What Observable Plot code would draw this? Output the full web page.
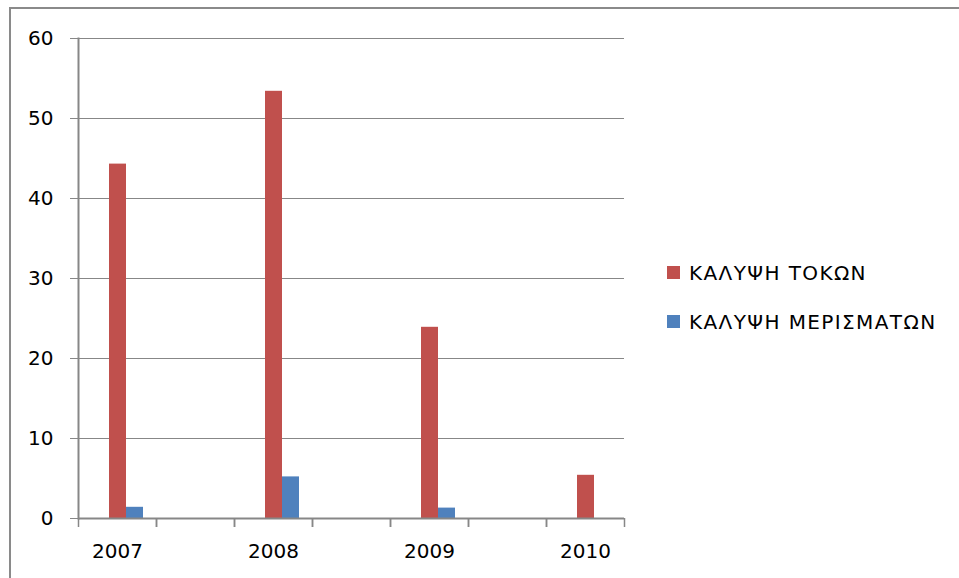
<!DOCTYPE html>
<html>
<head>
<meta charset="utf-8">
<script src="https://cdn.jsdelivr.net/npm/d3@7"></script>
<script src="https://cdn.jsdelivr.net/npm/@observablehq/plot@0.6"></script>
<style>
  html, body { margin: 0; padding: 0; background: #fff; }
  body { width: 959px; height: 578px; position: relative; overflow: hidden; font-family: "DejaVu Sans", sans-serif; }
  #border-top { position: absolute; left: 9px; top: 7px; width: 950px; height: 2px; background: #8a8a8a; }
  #border-left { position: absolute; left: 9px; top: 7px; width: 2px; height: 571px; background: #8a8a8a; }
  #chart { position: absolute; left: 0; top: 0; }
  #legend { position: absolute; left: 667px; top: 259px; font-size: 20px; letter-spacing: 1.4px; color: #000; }
  .item { display: flex; align-items: center; height: 27px; margin-bottom: 22px; }
  .sw { width: 13px; height: 13px; margin-right: 9px; }
</style>
</head>
<body>
<div id="border-top"></div>
<div id="border-left"></div>
<div id="chart"></div>
<div id="legend"></div>
<script>
// ---- data ----
const years = ["2007", "2008", "2009", "2010"];
const categories = ["2007", "-1", "2008", "-2", "2009", "-3", "2010"];
const seriesNames = ["ΚΑΛΥΨΗ ΤΟΚΩΝ", "ΚΑΛΥΨΗ ΜΕΡΙΣΜΑΤΩΝ"];
const seriesSlots = ["", "ΚΑΛΥΨΗ ΤΟΚΩΝ", "ΚΑΛΥΨΗ ΜΕΡΙΣΜΑΤΩΝ"];
const seriesColors = ["#C0504D", "#4F81BD"];
const tokon = [44.3, 53.4, 23.9, 5.4];
const merismaton = [1.4, 5.2, 1.3, 0];
const yTicks = [0, 10, 20, 30, 40, 50, 60];

const rows = [];
years.forEach((yr, i) => {
  rows.push({cat: yr, series: seriesNames[0], value: tokon[i]});
  rows.push({cat: yr, series: seriesNames[1], value: merismaton[i]});
});

const grid = "#878787";
const W = 640, H = 578, mL = 78, mR = 16, mT = 38, mB = 60;
const step = (W - mL - mR) / categories.length;

const chart = Plot.plot({
  width: W,
  height: H,
  marginLeft: mL,
  marginRight: mR,
  marginTop: mT,
  marginBottom: mB,
  style: {fontFamily: "DejaVu Sans, sans-serif", fontSize: "20px", color: "#000", background: "transparent"},
  fx: {domain: categories, paddingInner: 0, paddingOuter: 0, label: null},
  x: {domain: seriesSlots, paddingInner: 0, paddingOuter: 0.73, axis: null},
  y: {domain: [0, 60], label: null},
  color: {domain: seriesNames, range: seriesColors},
  marks: [
    Plot.ruleY(yTicks.filter(d => d > 0), {stroke: grid, strokeWidth: 1}),
    Plot.barY(rows, {fx: "cat", x: "series", y: "value", fill: "series"}),
    Plot.ruleY(categories, {fx: d => d, y: () => 0, stroke: grid, strokeWidth: 2}),
    Plot.frame({anchor: "left", facetAnchor: "left", stroke: grid, strokeWidth: 2}),
    Plot.axisY({ticks: yTicks, tickSize: 8, tickPadding: 17, stroke: grid, fill: "#000", fontSize: 20, label: null}),
    Plot.axisFx({anchor: "bottom", tickSize: 9, tickFormat: () => "", dx: -step / 2, stroke: grid, strokeWidth: 1.5, label: null}),
    Plot.axisFx({anchor: "bottom", tickSize: 9, tickFormat: () => "", dx: step / 2, stroke: grid, strokeWidth: 1.5, label: null}),
    Plot.axisFx({anchor: "bottom", tickSize: 0, tickPadding: 25, tickFormat: d => years.includes(d) ? d : "", fill: "#000", fontSize: 20, label: null})
  ]
});
document.getElementById("chart").append(chart);

const legend = document.getElementById("legend");
seriesNames.forEach((name, i) => {
  const item = document.createElement("div");
  item.className = "item";
  const sw = document.createElement("div");
  sw.className = "sw";
  sw.style.background = seriesColors[i];
  const t = document.createElement("span");
  t.textContent = name;
  item.append(sw, t);
  legend.append(item);
});
</script>
</body>
</html>
